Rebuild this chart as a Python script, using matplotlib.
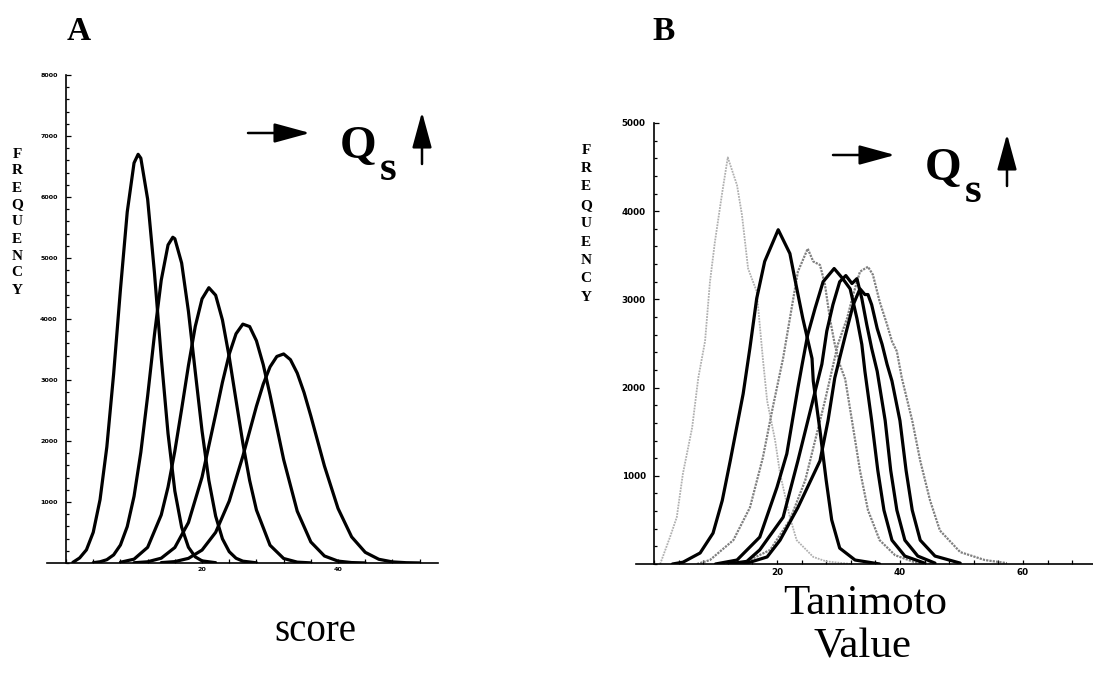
import matplotlib.pyplot as plt
from matplotlib.ticker import FixedLocator, MultipleLocator

W, H = 1093, 673

# ---- panel A: score distributions (five curves)
score_x1 = [1, 2, 3, 4, 5, 6, 7, 8, 9, 10, 10.6, 11, 12, 13, 14, 15, 16, 17, 18, 19, 20, 22]
score_y1 = [10, 83, 216, 503, 1038, 1904, 3100, 4483, 5755, 6558, 6700, 6636, 5964, 4760,
            3370, 2120, 1180, 587, 258, 101, 35, 5]
score_x2 = [4, 5, 6, 7, 8, 9, 10, 11, 12, 13, 14, 15, 15.7, 16, 17, 18, 19, 20, 21, 22, 23,
            24, 25, 26, 28]
score_y2 = [5, 20, 54, 133, 295, 597, 1093, 1816, 2737, 3741, 4637, 5214, 5340, 5316, 4917,
            4125, 3138, 2165, 1355, 769, 396, 185, 78, 30, 3]
score_x3 = [8, 10, 12, 14, 15, 16, 17, 18, 19, 20, 21, 22, 23, 24, 25, 26, 27, 28, 30, 32,
            34, 36]
score_y3 = [12, 63, 257, 788, 1245, 1834, 2523, 3237, 3876, 4330, 4513, 4390, 3984, 3375,
            2667, 1966, 1353, 869, 291, 74, 14, 2]
score_x4 = [10, 12, 14, 16, 18, 20, 22, 23, 24, 25, 26, 27, 28, 29, 30, 32, 34, 36, 38, 40,
            42, 44]
score_y4 = [4, 20, 79, 254, 663, 1408, 2435, 2963, 3424, 3758, 3916, 3876, 3643, 3251, 2756,
            1696, 849, 345, 115, 31, 7, 1]
score_x5 = [14, 16, 18, 20, 22, 24, 26, 28, 29, 30, 31, 32, 33, 34, 35, 36, 38, 40, 42, 44,
            46, 48, 50, 52]
score_y5 = [6, 23, 76, 212, 502, 1016, 1750, 2570, 2932, 3215, 3386, 3427, 3333, 3113, 2795,
            2410, 1590, 894, 428, 175, 61, 18, 5, 1]

# ---- panel B: Tanimoto value distributions
tan_gray1_x = [1, 2.6, 3.7, 4.7, 6.2, 7.2, 8.3, 9.1, 9.9, 11.1, 12.0, 13.5, 14.3, 15.3, 16.7,
               17.7, 18.4, 19.7, 20.5, 22.1, 23.2, 25.9, 28, 32]
tan_gray1_y = [0, 305, 530, 1025, 1545, 2110, 2525, 3200, 3650, 4215, 4610, 4295, 3960, 3350,
               3090, 2330, 1850, 1400, 1025, 530, 270, 80, 30, 0]
tan_black1_x = [3, 4.7, 7.5, 9.6, 11.1, 12.4, 14.5, 15.6, 16.7, 18.0, 20.2, 22.1, 22.9, 24.2,
                25.7, 25.9, 27, 28, 28.9, 30.2, 32.7, 36.7]
tan_black1_y = [0, 20, 125, 350, 720, 1170, 1930, 2450, 3010, 3430, 3790, 3520, 3235, 2785,
                2330, 2075, 1510, 950, 500, 180, 45, 0]
tan_gray2_x = [7, 9.1, 12.9, 15.6, 17.7, 19.3, 21.0, 23.4, 25.0, 25.9, 27.0, 27.8, 28.6, 29.4,
               30.2, 31.1, 32.2, 33.5, 34.8, 36.7, 39.2, 42.4, 45]
tan_gray2_y = [0, 45, 270, 640, 1205, 1770, 2335, 3315, 3575, 3430, 3390, 3170, 2785, 2490,
               2265, 2095, 1625, 1060, 610, 270, 100, 20, 0]
tan_black2_x = [10, 13.5, 17.2, 20.0, 21.6, 23.4, 24.1, 25.0, 26.2, 27.5, 29.3, 30.7, 31.9,
                33.0, 33.8, 34.3, 35.4, 36.4, 37.4, 38.7, 40.8, 44]
tan_black2_y = [0, 45, 305, 870, 1250, 1995, 2265, 2600, 2900, 3200, 3350, 3235, 3120, 2785,
                2490, 2185, 1625, 1060, 610, 270, 90, 10]
tan_black3_x = [12, 15.1, 17.2, 21.0, 23.4, 27.3, 28.1, 29.1, 30.2, 31.2, 32.2, 33.0, 33.8,
                34.6, 35.4, 36.3, 37.6, 38.5, 39.5, 40.8, 42.9, 45.7]
tan_black3_y = [0, 30, 160, 530, 1170, 2265, 2640, 2940, 3200, 3270, 3180, 3235, 3010, 2715,
                2445, 2185, 1625, 1060, 610, 270, 90, 10]
tan_black4_x = [13, 15.6, 18.4, 20.5, 23.4, 27.0, 28.3, 29.4, 30.2, 31.4, 32.4, 33.5, 34.3,
                34.8, 35.4, 36.3, 37.1, 37.9, 38.7, 40.0, 41.0, 42.0, 43.3, 45.7, 49.8]
tan_black4_y = [0, 20, 80, 270, 640, 1170, 1625, 2110, 2335, 2670, 2940, 3120, 3055, 3055,
                2940, 2670, 2490, 2265, 2075, 1625, 1060, 610, 270, 90, 10]
tan_gray3_x = [12, 14.8, 18.9, 22.1, 24.6, 26.2, 27.8, 28.9, 29.9, 31.4, 32.4, 33.5, 34.8,
               35.6, 36.7, 37.9, 38.7, 39.5, 40.3, 42, 43.3, 44.9, 46.5, 49.8, 53.8, 57.4]
tan_gray3_y = [0, 20, 160, 500, 950, 1400, 1850, 2185, 2490, 2785, 3055, 3315, 3370, 3280,
               2975, 2715, 2525, 2410, 2110, 1625, 1170, 720, 380, 135, 45, 10]

score_yticks = [1000, 2000, 3000, 4000, 5000, 6000, 7000, 8000]
score_xticks = [20, 40]
tan_yticks = [1000, 2000, 3000, 4000, 5000]
tan_xticks = [20, 40, 60]

serif = ['Liberation Serif', 'DejaVu Serif']


def fx(px):
    return px / W


def fy(py):
    return 1 - py / H


fig = plt.figure(figsize=(W / 100, H / 100), dpi=100)

# ---------------- panel A
axA = fig.add_axes([fx(47), fy(563), (438 - 47) / W, (563 - 75) / H])
for xs, ys in [(score_x1, score_y1), (score_x2, score_y2), (score_x3, score_y3),
               (score_x4, score_y4), (score_x5, score_y5)]:
    axA.plot(xs, ys, color='black', lw=2.3, solid_joinstyle='round', solid_capstyle='round')
axA.set_xlim(-2.8, 54.7)
axA.set_ylim(0, 8000)

# ---------------- panel B
axB = fig.add_axes([fx(636), fy(564), (1093 - 636) / W, (564 - 123) / H])
axB.plot(tan_gray1_x, tan_gray1_y, color='#b0b0b0', lw=1.3, ls=(0, (1, 0.6)))
axB.plot(tan_gray2_x, tan_gray2_y, color='#808080', lw=1.6, ls=(0, (1, 0.5)))
axB.plot(tan_gray3_x, tan_gray3_y, color='#808080', lw=1.6, ls=(0, (1, 0.5)))
for xs, ys in [(tan_black1_x, tan_black1_y), (tan_black2_x, tan_black2_y),
               (tan_black3_x, tan_black3_y), (tan_black4_x, tan_black4_y)]:
    axB.plot(xs, ys, color='black', lw=2.3, solid_joinstyle='round', solid_capstyle='round')
axB.set_xlim(-2.93, 71.4)
axB.set_ylim(0, 5000)

for ax, yt, xt, ytop, fs in [(axA, score_yticks, score_xticks, 8000, 4.6),
                             (axB, tan_yticks, tan_xticks, 5000, 6.3)]:
    ax.spines['top'].set_visible(False)
    ax.spines['right'].set_visible(False)
    ax.spines['left'].set_position(('data', 0))
    ax.spines['left'].set_bounds(0, ytop)
    ax.spines['left'].set_linewidth(1.2)
    ax.spines['bottom'].set_linewidth(1.2)
    ax.yaxis.set_major_locator(FixedLocator(yt))
    ax.yaxis.set_minor_locator(MultipleLocator(200))
    ax.xaxis.set_major_locator(FixedLocator(xt))
    ax.xaxis.set_minor_locator(MultipleLocator(4))
    ax.tick_params(which='both', direction='in', width=0.9, labelsize=fs)
    ax.tick_params(axis='y', which='major', length=3.5, pad=6)
    ax.tick_params(axis='y', which='minor', length=2.2)
    ax.tick_params(axis='x', which='major', length=3, pad=3)
    ax.tick_params(axis='x', which='minor', length=3)
    for lab in ax.get_xticklabels() + ax.get_yticklabels():
        lab.set_fontweight('bold')
    ax.patch.set_alpha(0)

# panel letters
fig.text(fx(67), fy(40), 'A', family=serif, weight='bold', fontsize=24)
fig.text(fx(652), fy(40), 'B', family=serif, weight='bold', fontsize=24)

# stacked FREQUENCY labels
for i, ch in enumerate('FREQUENCY'):
    fig.text(fx(17), fy(154 + i * 17), ch, family=serif, weight='bold', fontsize=11,
             ha='center', va='center')
    fig.text(fx(586), fy(150 + i * 18.4), ch, family=serif, weight='bold', fontsize=11,
             ha='center', va='center')

# axis captions
fig.text(fx(315), fy(641), 'score', family=serif, fontsize=28, ha='center', va='baseline')
fig.text(fx(865), fy(614), 'Tanimoto', family=serif, fontsize=31, ha='center', va='baseline')
fig.text(fx(862), fy(658), 'Value', family=serif, fontsize=31, ha='center', va='baseline')

# "-> Qs ^" markers
arrow_r = dict(arrowstyle='-|>,head_length=1.1,head_width=0.3', color='black', lw=1.8,
               mutation_scale=20, shrinkA=0, shrinkB=0)
for dx, dy in [(0, 0), (585, 22)]:
    fig.add_artist(plt.Annotation('', xy=(fx(310 + dx), fy(133 + dy)),
                                  xytext=(fx(248 + dx), fy(133 + dy)),
                                  xycoords='figure fraction', arrowprops=arrow_r))
    fig.add_artist(plt.Annotation('', xy=(fx(422 + dx), fy(112 + dy)),
                                  xytext=(fx(422 + dx), fy(164 + dy)),
                                  xycoords='figure fraction', arrowprops=arrow_r))
    fig.text(fx(340 + dx), fy(158 + dy), 'Q', family=serif, weight='bold', fontsize=34,
             va='baseline')
    fig.text(fx(380 + dx), fy(180 + dy), 's', family=serif, weight='bold', fontsize=31,
             va='baseline')

fig.savefig('out.png', dpi=100)
